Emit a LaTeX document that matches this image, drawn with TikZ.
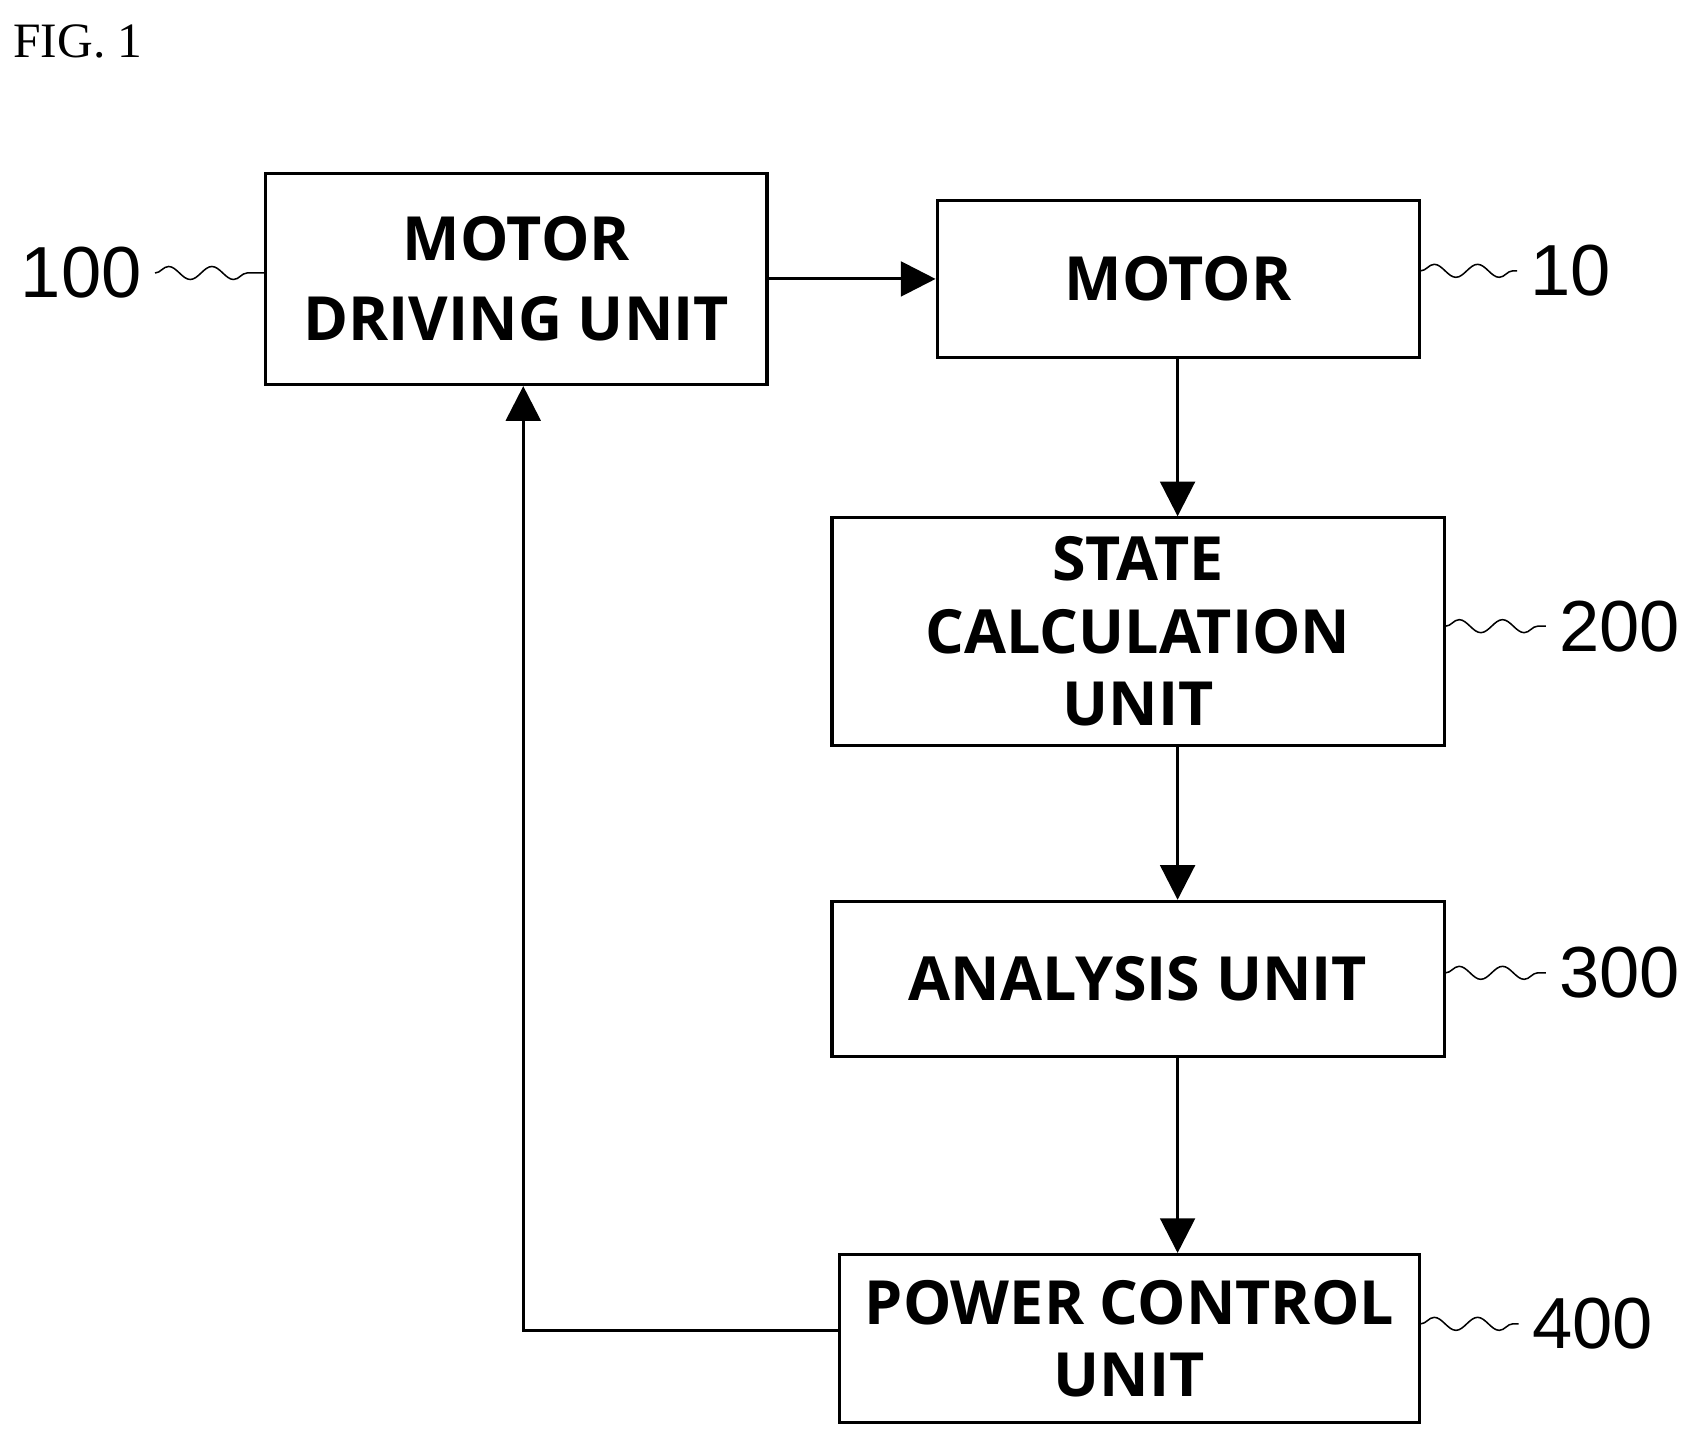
\documentclass[tikz,border=0pt]{standalone}
\usepackage{fontspec}
\setmainfont{Open Sans}
\newfontfamily\numfont{Liberation Sans}
\newfontfamily\figfont{Liberation Serif}
\usetikzlibrary{arrows.meta,decorations.pathmorphing}
\tikzset{
 unit/.style={draw,thick,align=center,font=\fontsize{16}{19}\selectfont\bfseries,inner sep=0pt},
 flow/.style={thick,-{Triangle[length=0.32cm,width=0.32cm]}},
 tag/.style={font=\numfont\fontsize{19}{22}\selectfont},
 wave/.style={thin,decorate,decoration={snake,amplitude=0.6mm,segment length=4mm}}
}
\begin{document}
\begin{tikzpicture}
\useasboundingbox (0,0) rectangle (15.6,-13.32);
\node[font=\figfont\fontsize{13}{15}\selectfont] (fig) at (0.72,-0.38) {FIG. 1};
% blocks
\node[unit,minimum width=4.63cm,minimum height=1.95cm] (mdu) at (4.765,-2.575) {MOTOR\\[2pt]DRIVING UNIT};
\node[unit,minimum width=4.45cm,minimum height=1.45cm] (mot) at (10.875,-2.575) {MOTOR};
\node[unit,minimum width=5.65cm,minimum height=2.1cm] (scu) at (10.505,-5.83) {STATE\\CALCULATION\\UNIT};
\node[unit,minimum width=5.65cm,minimum height=1.43cm] (ana) at (10.505,-9.035) {ANALYSIS UNIT};
\node[unit,minimum width=5.35cm,minimum height=1.55cm] (pcu) at (10.425,-12.355) {POWER CONTROL\\UNIT};
% connectors
\draw[flow] (mdu) -- (mot);
\draw[flow] (mot.south -| 10.87,0) -- (scu.north -| 10.87,0);
\draw[flow] (scu.south -| 10.87,0) -- (ana.north -| 10.87,0);
\draw[flow] (ana.south -| 10.87,0) -- (pcu.north -| 10.87,0);
\coordinate (back) at (4.83,-12.28);
\draw[flow] (pcu.west |- back) -- (back) -- (mdu.south -| back);
% reference numerals
\node[tag] (n100) at (0.75,-2.52) {100};
\node[tag] (n10) at (14.5,-2.5) {10};
\node[tag] (n200) at (14.95,-5.78) {200};
\node[tag] (n300) at (14.95,-8.98) {300};
\node[tag] (n400) at (14.7,-12.22) {400};
\draw[wave] (n100.east) -- (mdu.west |- n100.east);
\draw[wave] (mot.east |- n10.west) -- (n10.west);
\draw[wave] (scu.east |- n200.west) -- (n200.west);
\draw[wave] (ana.east |- n300.west) -- (n300.west);
\draw[wave] (pcu.east |- n400.west) -- (n400.west);
\end{tikzpicture}
\end{document}
